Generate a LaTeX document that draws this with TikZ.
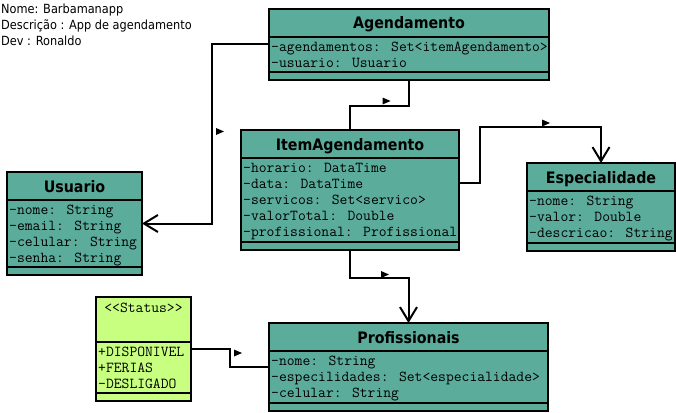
\documentclass[tikz,border=0pt]{standalone}
\usepackage{fontspec}
\IfFontExistsTF{DejaVu Sans Condensed}{\setmainfont{DejaVu Sans Condensed}}{\setmainfont{DejaVu Sans}}
\usetikzlibrary{arrows.meta}
\definecolor{umlteal}{RGB}{91,172,155}
\definecolor{umllime}{RGB}{200,255,128}
\tikzset{
 classbox/.style={draw=black, line width=2.2pt, fill=umlteal, anchor=north west, inner sep=0pt, outer sep=0pt},
 classname/.style={font=\fontsize{15.8}{18}\selectfont\bfseries, anchor=base, inner sep=0pt},
 members/.style={font=\ttfamily\fontsize{15.2}{16}\selectfont, align=left, anchor=north west, inner sep=0pt},
 divider/.style={line width=2pt},
 info/.style={font=\fontsize{12.6}{16}\selectfont, align=left, anchor=north west, inner sep=0pt},
 link/.style={line width=2pt},
 assoc/.style={link, -{Straight Barb[length=14pt, width=17pt]}},
}
\newcommand{\dirmark}[1]{\fill #1 ++(-4,-3.5) -- ++(8,3.5) -- ++(-8,3.5) -- cycle;}
\begin{document}
\begin{tikzpicture}[x=1pt,y=-1pt]
\useasboundingbox (0,0) rectangle (676,412);
% project info
\node[info] (info) at (1,3.5) {Nome: Barbamanapp\\Descrição : App de agendamento\\Dev : Ronaldo};
% Agendamento
\node[classbox, minimum width=280pt, minimum height=71pt] (agend) at (269,9) {};
\node[classname] (agendName) at (409,29) {Agendamento};
\node[members] (agendAttr) at (271,42) {-agendamentos: Set<itemAgendamento>\\-usuario: Usuario};
\draw[divider] (269,37) -- (549,37) (269,72) -- (549,72);
% Usuario
\node[classbox, minimum width=135pt, minimum height=103pt] (usuario) at (7,172) {};
\node[classname] (usuarioName) at (74.5,192) {Usuario};
\node[members] (usuarioAttr) at (9,205) {-nome: String\\-email: String\\-celular: String\\-senha: String};
\draw[divider] (7,200) -- (142,200) (7,267) -- (142,267);
% ItemAgendamento
\node[classbox, minimum width=218pt, minimum height=120pt] (item) at (241,130) {};
\node[classname] (itemName) at (350,150) {ItemAgendamento};
\node[members] (itemAttr) at (243,163) {-horario: DataTime\\-data: DataTime\\-servicos: Set<servico>\\-valorTotal: Double\\-profissional: Profissional};
\draw[divider] (241,158) -- (459,158) (241,242) -- (459,242);
% Especialidade
\node[classbox, minimum width=148pt, minimum height=88pt] (espec) at (527,163) {};
\node[classname] (especName) at (601,183) {Especialidade};
\node[members] (especAttr) at (529,196) {-nome: String\\-valor: Double\\-descricao: String};
\draw[divider] (527,191) -- (675,191) (527,243) -- (675,243);
% Status
\node[classbox, fill=umllime, minimum width=95pt, minimum height=104pt] (status) at (96,297) {};
\node[members, anchor=base] (statusName) at (143.5,312) {<<Status>>};
\node[members] (statusAttr) at (98,347) {+DISPONIVEL\\+FERIAS\\-DESLIGADO};
\draw[divider] (96,342) -- (191,342) (96,393) -- (191,393);
% Profissionais
\node[classbox, minimum width=279pt, minimum height=88pt] (prof) at (269,323) {};
\node[classname] (profName) at (408.5,343) {Profissionais};
\node[members] (profAttr) at (271,356) {-nome: String\\-especilidades: Set<especialidade>\\-celular: String};
\draw[divider] (269,351) -- (548,351) (269,403) -- (548,403);
% connectors
\draw[assoc] (agend.west) -- ++(-57,0) |- (usuario.east);
\dirmark{(220,131.5)}
\draw[link] (agend.south) -- ++(0,26) -| (item.north);
\dirmark{(386.5,101)}
\draw[assoc] (item.east) ++(0,-7) -- ++(21,0) |- (espec.north |- 0,127) -- (espec.north);
\dirmark{(546,123)}
\draw[assoc] (item.south) -- ++(0,28) -| (prof.north);
\dirmark{(385,274.5)}
\draw[link] (status.east) -- ++(39,0) |- (prof.west);
\dirmark{(238,353)}
\end{tikzpicture}
\end{document}
